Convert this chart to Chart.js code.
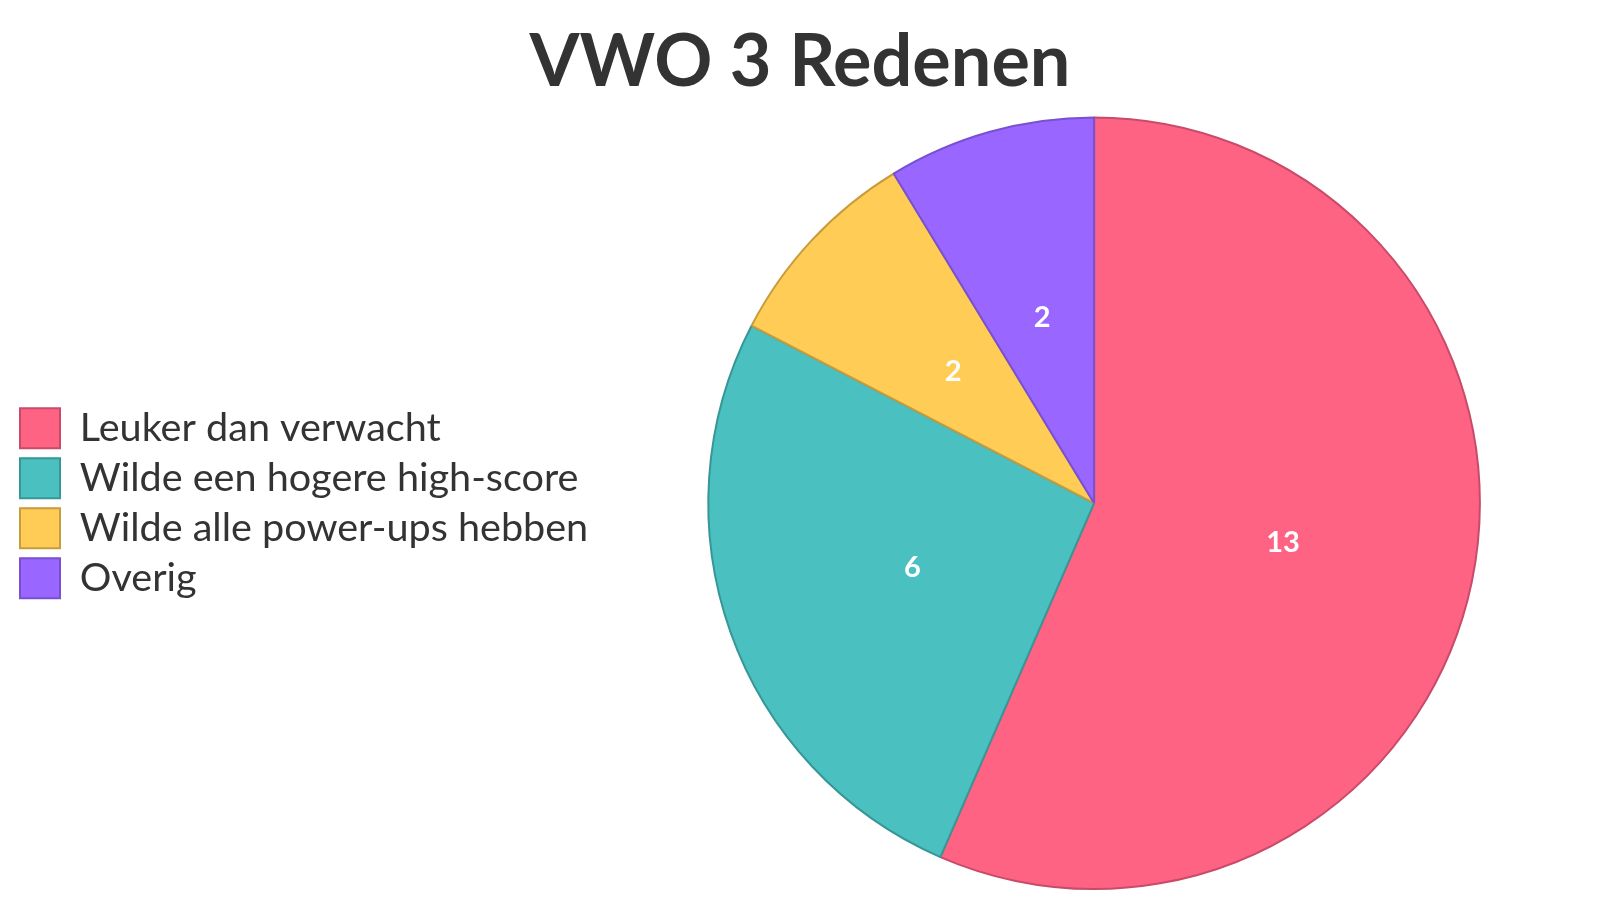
<!DOCTYPE html>
<html>
<head>
<meta charset="utf-8">
<script src="https://cdn.jsdelivr.net/npm/chart.js@4.4.1/dist/chart.umd.min.js"></script>
<style>
html,body{margin:0;padding:0;background:#fff;}
#wrap{width:1600px;height:900px;}
</style>
</head>
<body>
<div id="wrap"><canvas id="c" width="1600" height="900"></canvas></div>
<script>
const categories = ["Leuker dan verwacht", "Wilde een hogere high-score", "Wilde alle power-ups hebben", "Overig"];
const values = [13, 6, 2, 2];
const fillColors = ["rgb(255,99,132)", "rgb(75,192,192)", "rgb(255,205,86)", "rgb(153,102,255)"];
const borderColors = ["rgb(200,75,105)", "rgb(55,150,150)", "rgb(200,155,60)", "rgb(120,80,210)"];
const titleText = "VWO 3 Redenen";

const valueLabels = {
  id: 'valueLabels',
  afterDatasetsDraw(chart) {
    const ctx = chart.ctx;
    const meta = chart.getDatasetMeta(0);
    ctx.save();
    ctx.font = "bold 29px Lato";
    ctx.fillStyle = "#ffffff";
    ctx.textAlign = "center";
    ctx.textBaseline = "middle";
    meta.data.forEach((arc, i) => {
      const p = arc.tooltipPosition();
      ctx.fillText(String(chart.data.datasets[0].data[i]), p.x, p.y);
    });
    ctx.restore();
  }
};

new Chart(document.getElementById('c'), {
  type: 'pie',
  data: {
    labels: categories,
    datasets: [{
      data: values,
      backgroundColor: fillColors,
      borderColor: borderColors,
      borderWidth: 2
    }]
  },
  options: {
    responsive: false,
    animation: false,
    layout: { padding: 10 },
    plugins: {
      title: {
        display: true,
        text: titleText,
        color: "#333333",
        font: { family: "Lato", size: 72, weight: "bold" },
        padding: 10
      },
      legend: {
        position: 'left',
        fullSize: false,
        labels: {
          color: "#333333",
          font: { family: "Lato", size: 39.6 },
          boxWidth: 40,
          boxHeight: 40,
          padding: 10
        }
      },
      tooltip: { enabled: false }
    }
  },
  plugins: [valueLabels]
});
</script>
</body>
</html>
